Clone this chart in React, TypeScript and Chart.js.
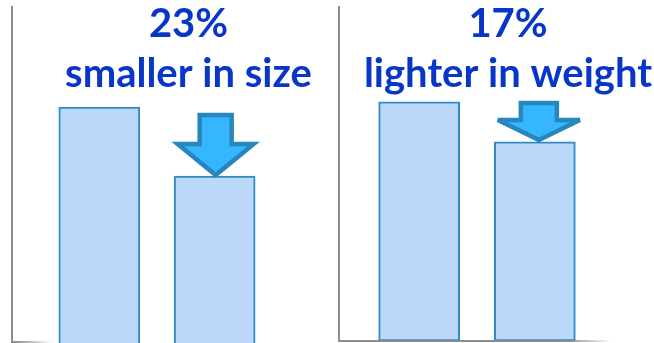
import React, { useEffect, useRef } from "react";
import { Chart, registerables } from "chart.js";

Chart.register(...registerables);

// ---- data ----
const categories = ["Before", "After"];
const xPositions = [1, 2];
const sizeValues = [70.2, 49.7];
const weightValues = [71.6, 59.6];
const sizeLabels = ["23%", "smaller in size"];
const weightLabels = ["17%", "lighter in weight"];

const TEXT_COLOR = "#0836C9";
const BAR_FILL = "#BBD8F8";
const BAR_BORDER = "#2F8BC6";
const ARROW_FILL = "#35B6FF";
const ARROW_BORDER = "#2786BE";
const AXIS_COLOR = "#8C8C8C";
const FONT = "bold 40px Lato, 'Open Sans', sans-serif";

type PanelProps = {
  left: number;
  width: number;
  values: number[];
  labels: string[];
  xMin: number;
  xMax: number;
  padLeft: number;
  padBottom: number;
  skipBottom: boolean;
  textX: number;
  fadeStart: number;
  fadeEnd: number;
  baselineY: number;
  arrow: { dx: number; tipGap: number; shaftW: number; headW: number; headLen: number; shaftLen: number };
};

function Panel(p: PanelProps) {
  const ref = useRef<HTMLCanvasElement | null>(null);
  useEffect(() => {
    if (!ref.current) return;
    const decor = {
      id: "decor",
      afterDraw(chart: any) {
        const ctx = chart.ctx as CanvasRenderingContext2D;
        const area = chart.chartArea;
        // baseline
        ctx.save();
        const g = ctx.createLinearGradient(area.left, 0, p.fadeEnd, 0);
        const stop = Math.max(0, Math.min(1, (p.fadeStart - area.left) / (p.fadeEnd - area.left)));
        g.addColorStop(0, AXIS_COLOR);
        g.addColorStop(stop, AXIS_COLOR);
        g.addColorStop(1, "rgba(140,140,140,0)");
        ctx.strokeStyle = g;
        ctx.lineWidth = 2;
        ctx.beginPath();
        ctx.moveTo(area.left - 1, p.baselineY);
        ctx.lineTo(p.fadeEnd, p.baselineY);
        ctx.stroke();
        ctx.restore();

        // arrow above second bar
        const el = chart.getDatasetMeta(0).data[1] as any;
        const a = p.arrow;
        const cx = el.x + a.dx;
        const tip = el.y - a.tipGap;
        const hb = tip - a.headLen;
        const top = hb - a.shaftLen;
        ctx.save();
        ctx.beginPath();
        ctx.moveTo(cx - a.shaftW / 2, top);
        ctx.lineTo(cx + a.shaftW / 2, top);
        ctx.lineTo(cx + a.shaftW / 2, hb);
        ctx.lineTo(cx + a.headW / 2, hb);
        ctx.lineTo(cx, tip);
        ctx.lineTo(cx - a.headW / 2, hb);
        ctx.lineTo(cx - a.shaftW / 2, hb);
        ctx.closePath();
        ctx.fillStyle = ARROW_FILL;
        ctx.fill();
        ctx.lineWidth = 4.5;
        ctx.lineJoin = "miter";
        ctx.miterLimit = 3;
        ctx.strokeStyle = ARROW_BORDER;
        ctx.stroke();
        ctx.restore();

        // text
        ctx.save();
        ctx.fillStyle = TEXT_COLOR;
        ctx.font = FONT;
        ctx.textAlign = "center";
        ctx.textBaseline = "alphabetic";
        ctx.fillText(p.labels[0], p.textX, 37);
        ctx.fillText(p.labels[1], p.textX, 87);
        ctx.restore();
      },
    };
    const chart = new Chart(ref.current, {
      type: "bar",
      data: {
        labels: categories,
        datasets: [
          {
            data: xPositions.map((x, i) => ({ x, y: p.values[i] })) as any,
            backgroundColor: BAR_FILL,
            borderColor: BAR_BORDER,
            borderWidth: 2,
            borderSkipped: p.skipBottom ? "bottom" : false,
            barThickness: 81,
          },
        ],
      },
      options: {
        animation: false,
        responsive: false,
        devicePixelRatio: 1,
        layout: { padding: { left: p.padLeft, top: 7, right: 0, bottom: p.padBottom } },
        plugins: { legend: { display: false }, tooltip: { enabled: false }, title: { display: false } },
        scales: {
          x: { type: "linear", display: false, offset: false, min: p.xMin, max: p.xMax },
          y: {
            min: 0,
            max: 100,
            grid: { display: false, drawTicks: false },
            ticks: { display: false },
            border: { display: true, color: AXIS_COLOR, width: 2 },
          },
        },
      },
      plugins: [decor],
    });
    return () => chart.destroy();
  }, []);
  return (
    <canvas
      ref={ref}
      width={p.width}
      height={343}
      style={{ position: "absolute", left: p.left, top: 0, width: p.width, height: 343 }}
    />
  );
}

export default function App() {
  return (
    <div style={{ position: "fixed", left: 0, top: 0, width: 654, height: 343, background: "#fff", overflow: "hidden" }}>
      <Panel
        left={0}
        width={330}
        values={sizeValues}
        labels={sizeLabels}
        xMin={0.243}
        xMax={3.0}
        padLeft={12}
        padBottom={0}
        skipBottom={true}
        textX={188.5}
        fadeStart={14}
        fadeEnd={52}
        baselineY={342}
        arrow={{ dx: 1, tipGap: 1, shaftW: 32, headW: 76, headLen: 31, shaftLen: 29 }}
      />
      <Panel
        left={330}
        width={324}
        values={weightValues}
        labels={weightLabels}
        xMin={0.307}
        xMax={3.03}
        padLeft={9}
        padBottom={2}
        skipBottom={false}
        textX={178}
        fadeStart={233}
        fadeEnd={282}
        baselineY={341}
        arrow={{ dx: 4, tipGap: 2, shaftW: 36, headW: 82, headLen: 20, shaftLen: 17 }}
      />
    </div>
  );
}
